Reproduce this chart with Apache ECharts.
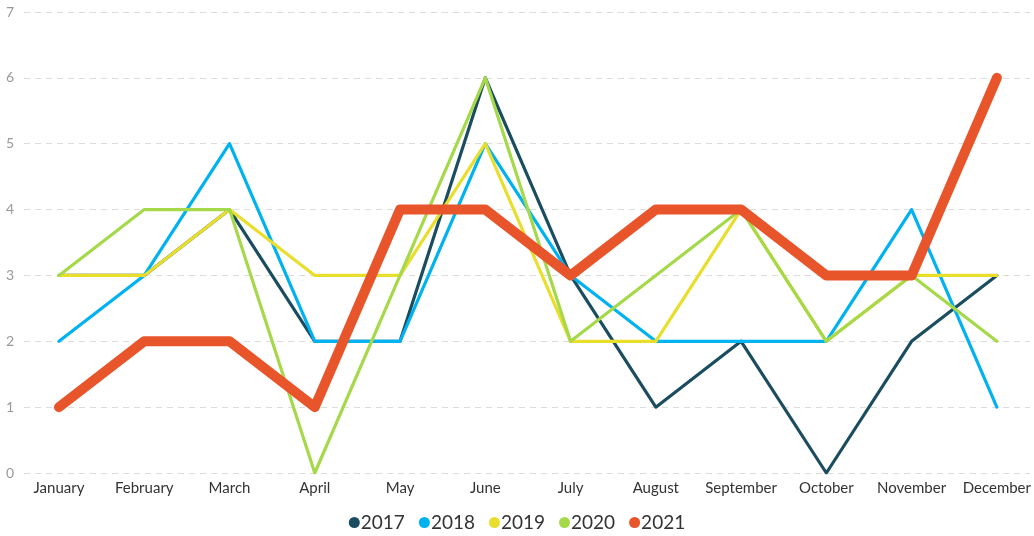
<!DOCTYPE html>
<html>
<head>
<meta charset="utf-8">
<script src="https://cdn.jsdelivr.net/npm/echarts@6/dist/echarts.min.js"></script>
<style>
  html, body { margin: 0; padding: 0; background: #ffffff; }
  #chart { width: 1034px; height: 536px; }
</style>
</head>
<body>
<div id="chart"></div>
<script>
// Months along the category axis
const months = ['January', 'February', 'March', 'April', 'May', 'June',
  'July', 'August', 'September', 'October', 'November', 'December'];

// Monthly counts per year
const y2017 = [3, 3, 4, 2, 2, 6, 3, 1, 2, 0, 2, 3];
const y2018 = [2, 3, 5, 2, 2, 5, 3, 2, 2, 2, 4, 1];
const y2019 = [3, 3, 4, 3, 3, 5, 2, 2, 4, 2, 3, 3];
const y2020 = [3, 4, 4, 0, 3, 6, 2, 3, 4, 2, 3, 2];
const y2021 = [1, 2, 2, 1, 4, 4, 3, 4, 4, 3, 3, 6];

const yTicks = { min: 0, max: 7, interval: 1 };

const chart = echarts.init(document.getElementById('chart'));

const fontFamily = 'Lato, "Open Sans", sans-serif';
const TOP = 12, BOTTOM = 63;

function lineSeries(name, data, color, width) {
  return {
    name: name,
    type: 'line',
    xAxisIndex: 1,
    yAxisIndex: 1,
    data: data,
    showSymbol: false,
    symbol: 'circle',
    color: color,
    lineStyle: { color: color, width: width, cap: 'round', join: 'round' },
    emphasis: { disabled: true },
    animation: false
  };
}

chart.setOption({
  backgroundColor: '#ffffff',
  textStyle: { fontFamily: fontFamily },
  legend: {
    top: 508,
    left: 'center',
    icon: 'circle',
    itemWidth: 11,
    itemHeight: 11,
    itemGap: 14,
    textStyle: { fontSize: 19, color: '#333333', fontFamily: fontFamily, padding: [0, 0, 0, -4] },
    data: ['2017', '2018', '2019', '2020', '2021']
  },
  grid: [
    // wide grid carrying the y labels and dashed guide lines
    { left: 24, right: 4, top: TOP, bottom: BOTTOM },
    // plotting grid where the month positions sit
    { left: 59, right: 35, top: TOP, bottom: BOTTOM }
  ],
  xAxis: [
    { gridIndex: 0, type: 'value', min: 0, max: 1, show: false },
    {
      gridIndex: 1,
      type: 'category',
      data: months,
      boundaryGap: false,
      axisLine: { show: false },
      axisTick: { show: false },
      splitLine: { show: false },
      axisLabel: { color: '#333333', fontSize: 15, margin: 8, interval: 0, fontFamily: fontFamily }
    }
  ],
  yAxis: [
    {
      gridIndex: 0,
      type: 'value',
      min: yTicks.min, max: yTicks.max, interval: yTicks.interval,
      axisLine: { show: false },
      axisTick: { show: false },
      axisLabel: { color: '#999999', fontSize: 14, margin: 10, fontFamily: fontFamily },
      splitLine: { show: true, lineStyle: { color: '#dddddd', width: 1, type: [6, 5] } }
    },
    {
      gridIndex: 1,
      type: 'value',
      min: yTicks.min, max: yTicks.max, interval: yTicks.interval,
      show: false,
      splitLine: { show: false }
    }
  ],
  series: [
    lineSeries('2017', y2017, '#1b4d60', 3.2),
    lineSeries('2018', y2018, '#00b2ef', 3.2),
    lineSeries('2019', y2019, '#e9de2c', 3.2),
    lineSeries('2020', y2020, '#a6d94a', 3.2),
    lineSeries('2021', y2021, '#e8552a', 10)
  ]
});
</script>
</body>
</html>
